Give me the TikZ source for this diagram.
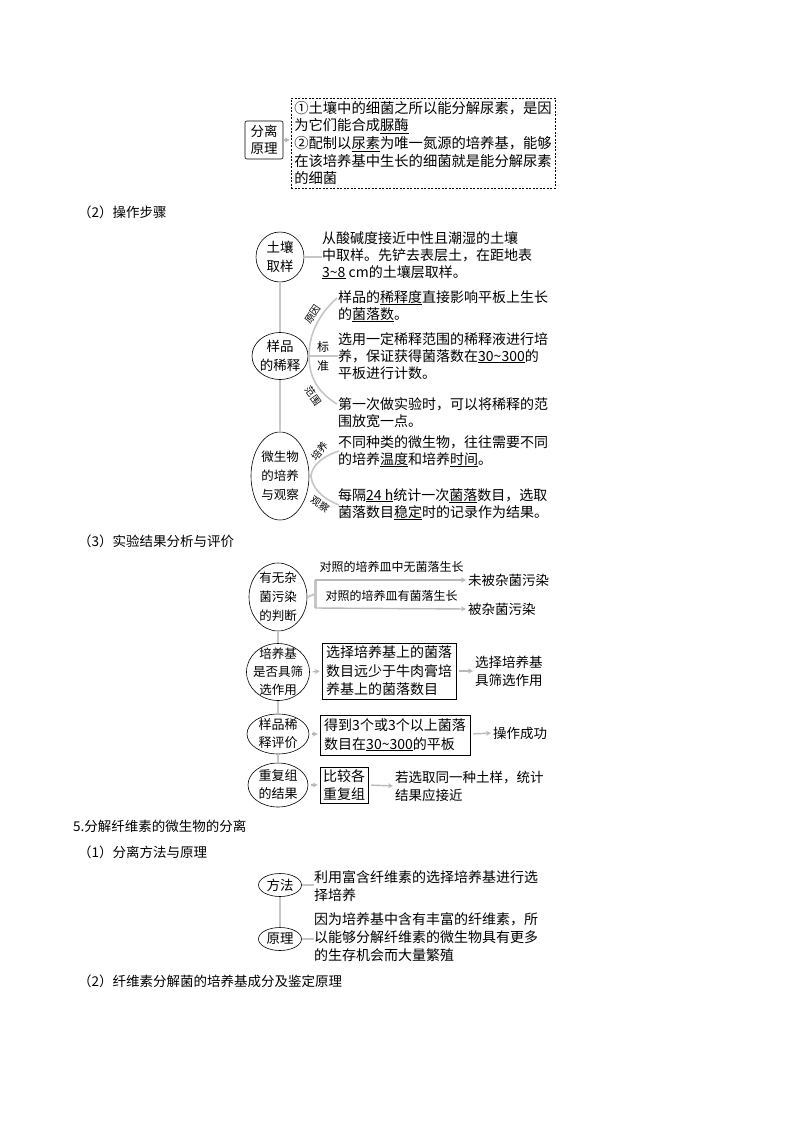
\documentclass[tikz,border=0pt]{standalone}
\usepackage{fontspec}
\setmainfont{Noto Sans CJK SC}
\usetikzlibrary{shapes.geometric,arrows.meta}
\tikzset{
	bubble/.style={draw,ellipse,inner sep=-12pt,align=center,line width=0.6pt,font=\fontsize{13.5}{19}\selectfont},
	small/.style={font=\fontsize{12.5}{19}\selectfont},
	link/.style={gray!45,line width=2pt},
	flow/.style={gray!55,line width=1.4pt,-{Stealth[length=5pt,width=5pt]},shorten <=3pt,shorten >=2pt},
	txt/.style={anchor=north west,inner sep=0pt,align=left,font=\fontsize{14}{17}\selectfont},
	frame/.style={draw,line width=0.6pt,inner sep=0pt,align=left,font=\fontsize{14}{18.5}\selectfont},
	note/.style={anchor=west,inner sep=0pt,align=left,font=\fontsize{13.5}{18}\selectfont},
	tag/.style={inner sep=0pt,font=\fontsize{10}{10}\selectfont},
	head/.style={anchor=west,inner sep=0pt,font=\fontsize{13.5}{17}\selectfont},
}
\begin{document}
\begin{tikzpicture}[x=1pt,y=-1pt]
		\fill[white] (0,0) rectangle (800,1132);
		\node[draw,rounded corners=2pt,inner sep=0pt,minimum width=38pt,minimum height=38pt,align=center,line width=0.6pt,font=\fontsize{13.5}{17}\selectfont] (sep) at (264,140) {分离\\原理};
		\node[draw,dash pattern=on 2pt off 1.5pt,line width=0.5pt,minimum width=264pt,minimum height=90pt,inner sep=0pt,align=left,font=\fontsize{14.3}{17.7}\selectfont] (why) at (423,143) {①土壤中的细菌之所以能分解尿素，是因\\为它们能合成\underline{脲酶}\\②配制以\underline{尿素}为唯一氮源的培养基，能够\\在该培养基中生长的细菌就是能分解尿素\\的细菌};
		\draw[flow,shorten <=1pt,shorten >=1pt] (sep.east) -- (sep.east -| why.west);
		% (2)
		\node[head] (h2) at (78,212) {（2）操作步骤};
		\node[bubble,minimum width=48pt,minimum height=50pt] (soil) at (280,257) {土壤\\取样};
		\node[txt] (soilT) at (322,231) {从酸碱度接近中性且潮湿的土壤\\中取样。先铲去表层土，在距地表\\\underline{3\textasciitilde8} cm的土壤层取样。};
		\draw[link] (soil.east) -- (soil.east -| soilT.west);
		\node[bubble,minimum width=56pt,minimum height=47pt] (dilute) at (280,356) {样品\\的稀释};
		\draw[link] (soil.south) -- (dilute.north);
		\node[txt] (whyT) at (338,290) {样品的\underline{稀释度}直接影响平板上生长\\的\underline{菌落数}。};
		\node[txt] (stdT) at (338,332) {选用一定稀释范围的稀释液进行培\\养，保证获得菌落数在\underline{30\textasciitilde300}的\\平板进行计数。};
		\node[txt] (rngT) at (338,397) {第一次做实验时，可以将稀释的范\\围放宽一点。};
		\coordinate (b1) at (337,298);
		\coordinate (b2) at (309,356);
		\coordinate (b3) at (337,404);
		\draw[link,line width=1.6pt] (b1) .. controls (317,316) and (309,336) .. (b2) .. controls (309,376) and (317,392) .. (b3);
		\draw[link,line width=1.6pt] (dilute.east) -- (dilute.east -| stdT.west);
		\node[tag,rotate=55] (whyL) at (313,314) {原因};
		\node[tag,font=\fontsize{12}{12}\selectfont] (stdL1) at (323,347) {标};
		\node[tag,font=\fontsize{12}{12}\selectfont] (stdL2) at (323,366) {准};
		\node[tag,rotate=-55] (rngL) at (313,396) {范围};
		\node[bubble,small,minimum width=58pt,minimum height=88pt] (culture) at (280,476) {微生物\\的培养\\与观察};
		\draw[link] (dilute.south) -- (culture.north);
		\node[txt] (tmpT) at (338,435) {不同种类的微生物，往往需要不同\\的培养\underline{温度}和培养\underline{时间}。};
		\node[txt] (obsT) at (338,488) {每隔\underline{24 h}统计一次\underline{菌落}数目，选取\\菌落数目\underline{稳定}时的记录作为结果。};
		\coordinate (c1) at (339,451);
		\coordinate (c2) at (311,476);
		\coordinate (c3) at (339,505);
		\draw[link,line width=1.6pt] (c1) .. controls (321,457) and (312,466) .. (c2) .. controls (312,487) and (321,498) .. (c3);
		\draw[link,line width=1.6pt] (culture.east) -- (c2);
		\node[tag,rotate=50] (tmpL) at (320,451) {培养};
		\node[tag,rotate=-35] (obsL) at (320,504) {观察};
		% (3)
		\node[head] (h3) at (78,541) {（3）实验结果分析与评价};
		\node[bubble,small,minimum width=58pt,minimum height=68pt] (contam) at (278,597) {有无杂\\菌污染\\的判断};
		\coordinate (fork) at (315,594);
		\coordinate (forkA) at (315,580);
		\coordinate (forkB) at (315,608);
		\draw[link] (contam.east) -- (fork);
		\draw[link,line width=3pt] (forkA) -- (forkB);
		\node[note] (clean) at (468,580) {未被杂菌污染};
		\node[note] (dirty) at (468,609) {被杂菌污染};
		\draw[flow,shorten <=0pt] (forkA) -- (clean.west) node[midway,above=3pt,text=black,font=\fontsize{12}{12}\selectfont] {对照的培养皿中无菌落生长};
		\draw[flow,shorten <=0pt] (forkB) -- (dirty.west) node[midway,above=3pt,text=black,font=\fontsize{12}{12}\selectfont] {对照的培养皿有菌落生长};
		\node[bubble,small,minimum width=63pt,minimum height=57pt,font=\fontsize{12.5}{18}\selectfont] (screen) at (278,672) {培养基\\是否具筛\\选作用};
		\draw[link] (contam.south) -- (screen.north);
		\node[frame,minimum width=134pt,minimum height=56pt] (screenB) at (389,671) {选择培养基上的菌落\\数目远少于牛肉膏培\\养基上的菌落数目};
		\node[note] (screenR) at (475,671) {选择培养基\\具筛选作用};
		\draw[flow] (screen.east) -- (screenB.west);
		\draw[flow] (screenB.east) -- (screenR.west);
		\node[bubble,minimum width=62pt,minimum height=40pt,font=\fontsize{13}{18}\selectfont] (rate) at (278,734) {样品稀\\释评价};
		\draw[link] (screen.south) -- (rate.north);
		\node[frame,minimum width=150pt,minimum height=40pt] (rateB) at (395,735) {得到3个或3个以上菌落\\数目在\underline{30\textasciitilde300}的平板};
		\node[note] (rateR) at (493,733) {操作成功};
		\draw[flow] (rate.east) -- (rate.east -| rateB.west);
		\draw[flow] (rate.east -| rateB.east) -- (rateR.west);
		\node[bubble,minimum width=60pt,minimum height=44pt,font=\fontsize{13}{18}\selectfont] (rep) at (278,785) {重复组\\的结果};
		\draw[link] (rate.south) -- (rep.north);
		\node[frame,minimum width=48pt,minimum height=36pt,align=center] (repB) at (344,785) {比较各\\重复组};
		\node[note] (repR) at (395,786) {若选取同一种土样，统计\\结果应接近};
		\draw[flow] (rep.east) -- (repB.west);
		\draw[flow] (repB.east) -- (repR.west);
		% 5
		\node[head] (h5) at (73,826) {5.分解纤维素的微生物的分离};
		\node[head] (h51) at (78,852) {（1）分离方法与原理};
		\node[bubble,minimum width=43pt,minimum height=23pt] (method) at (280,885) {方法};
		\node[txt,font=\fontsize{14}{18}\selectfont] (methodT) at (314,870) {利用富含纤维素的选择培养基进行选\\择培养};
		\draw[link,line width=1.5pt] (method.east) -- (method.east -| methodT.west);
		\node[bubble,minimum width=43pt,minimum height=23pt] (basis) at (280,939) {原理};
		\node[txt,font=\fontsize{14}{18}\selectfont] (basisT) at (314,912) {因为培养基中含有丰富的纤维素，所\\以能够分解纤维素的微生物具有更多\\的生存机会而大量繁殖};
		\draw[link,line width=1.5pt] (basis.east) -- (basis.east -| basisT.west);
		\draw[link] (method.south) -- (basis.north);
		\node[head] (h52) at (78,981) {（2）纤维素分解菌的培养基成分及鉴定原理};
\end{tikzpicture}
\end{document}
